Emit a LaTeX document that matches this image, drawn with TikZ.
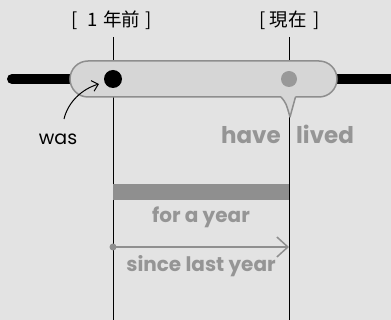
\documentclass[tikz,border=0pt]{standalone}
\usepackage{fontspec}
\setmainfont{Poppins}
\newfontfamily\jpfont{Noto Sans CJK JP}
\usetikzlibrary{arrows.meta}
\definecolor{bgc}{HTML}{E3E3E3}
\definecolor{pillfill}{HTML}{D6D6D6}
\definecolor{pilldraw}{HTML}{8E8E8E}
\definecolor{txtgray}{HTML}{959595}
\definecolor{bargray}{HTML}{8F8F8F}
\definecolor{dotgray}{HTML}{999999}
\tikzset{
  vline/.style={line width=1pt, black},
  jplabel/.style={font=\jpfont\fontsize{18.5}{22}\selectfont, inner sep=0pt, anchor=base},
  graylabel/.style={font=\bfseries\fontsize{20}{24}\selectfont, text=txtgray, inner sep=0pt, anchor=base},
  biglabel/.style={font=\bfseries\fontsize{23}{28}\selectfont, text=txtgray, inner sep=0pt, anchor=base},
  pill/.style={fill=pillfill, draw=pilldraw, line width=1.5pt},
}
\begin{document}
\begin{tikzpicture}[x=1pt,y=-1pt]
\fill[bgc] (0,0) rectangle (391,320);
\useasboundingbox (0,0) rectangle (391,320);
% top labels
\node[jplabel] (lab1) at (111.5,27) {[\hspace{10pt}1\hspace{5pt}年前\hspace{5pt}]};
\node[jplabel] (lab2) at (290,27) {[\hspace{4pt}現在\hspace{7pt}]};
% vertical lines
\coordinate (t1) at (113,37);
\coordinate (b1) at (113,320);
\coordinate (t2) at (289,37);
\coordinate (b2) at (289,320);
\draw[vline] (t1) -- (b1);
\draw[vline] (t2) -- (b2);
% thick timeline
\coordinate (tlL) at (12,79);
\coordinate (tlR) at (396,79);
\draw[line width=10pt, line cap=round] (tlL) -- (tlR);
% pill bubble
\draw[pill, rounded corners=18pt] (70,61) rectangle (337,97);
\fill[pillfill] (281,96.1) .. controls (286,103) .. (290,117) -- (295.5,96.1) -- cycle;
\draw[draw=pilldraw, line width=1.5pt, line join=round] (281,97) .. controls (286,103) .. (290,117) -- (295.5,97);
% dots
\node[circle, fill=black, minimum size=18pt, inner sep=0pt] (d1) at (113,79) {};
\node[circle, fill=dotgray, minimum size=16pt, inner sep=0pt] (d2) at (289,79) {};
% was
\node[font=\fontsize{19}{23}\selectfont, inner sep=0pt, anchor=base] (was) at (58,145) {was};
\coordinate (wasA) at (64,119);
\coordinate (wasB) at (99,84);
\draw[line width=1pt, -{Straight Barb[length=6pt,width=11pt]}] (wasA) .. controls (68,102) and (82,89) .. (wasB);
% have lived
\node[biglabel, anchor=base east] (have) at (281,143.5) {have};
\node[biglabel, anchor=base west] (lived) at (296,143.5) {lived};
% bar
\fill[bargray] (113,184) rectangle (289,200);
\node[graylabel] (fay) at (201,222.5) {for a year};
% since arrow
\node[circle, fill=bargray, minimum size=7pt, inner sep=0pt] (sd) at (113,247) {};
\coordinate (se) at (289,247);
\draw[draw=bargray, line width=1.5pt, -{Straight Barb[length=11pt,width=20pt]}] (sd.center) -- (se);
\node[graylabel] (sly) at (201,271.5) {since last year};
\end{tikzpicture}
\end{document}
